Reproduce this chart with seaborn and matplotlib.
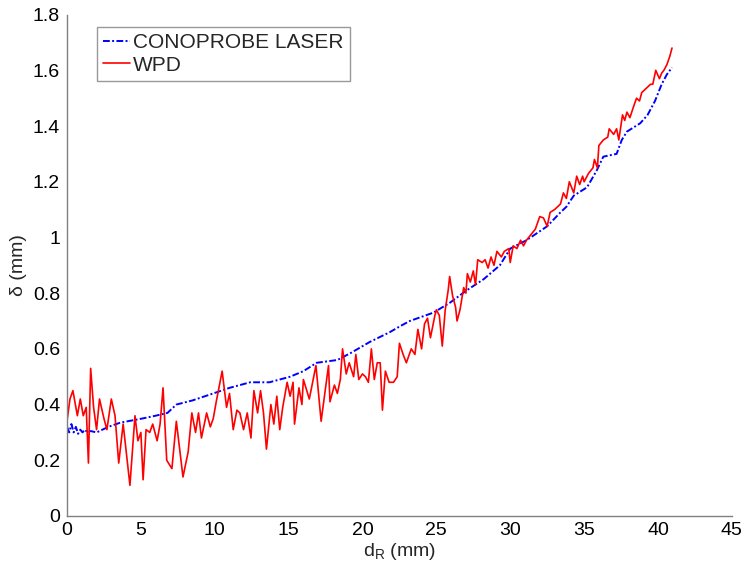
import matplotlib
matplotlib.use("Agg")
import matplotlib.pyplot as plt
import seaborn as sns
import pandas as pd

sns.set_style("white")
plt.rcParams['font.family'] = ['Liberation Sans', 'DejaVu Sans']
plt.rcParams['mathtext.fontset'] = 'custom'
plt.rcParams['mathtext.rm'] = 'Liberation Sans'

series_names = ["CONOPROBE LASER", "WPD"]

laser_x = [0.0, 0.15, 0.3, 0.45, 0.6, 0.75, 0.9, 1.05, 1.2, 1.4, 1.6, 2.0, 2.8, 3.6, 5.1, 6.0,
           6.8, 7.4, 8.5, 9.9, 11.0, 11.7, 12.4, 13.7, 15.1, 16.0, 16.9, 18.3, 19.2, 20.5,
           21.85, 22.5, 23.2, 24.8, 25.9, 27.05, 28.2, 29.3, 30.0, 31.1, 32.5, 33.4, 33.8,
           34.3, 35.2, 35.85, 36.3, 37.2, 37.55, 37.9, 38.8, 39.3, 39.8, 40.25, 40.6, 40.95]
laser_y = [0.32, 0.30, 0.33, 0.30, 0.32, 0.295, 0.31, 0.30, 0.31, 0.30, 0.305, 0.30, 0.32,
           0.335, 0.35, 0.36, 0.37, 0.40, 0.415, 0.44, 0.46, 0.47, 0.48, 0.48, 0.50, 0.52,
           0.55, 0.56, 0.585, 0.625, 0.66, 0.68, 0.70, 0.73, 0.765, 0.81, 0.85, 0.90, 0.96,
           0.99, 1.04, 1.09, 1.11, 1.15, 1.18, 1.24, 1.29, 1.30, 1.35, 1.38, 1.41, 1.44,
           1.49, 1.55, 1.585, 1.61]

wpd_x = [0.0, 0.2, 0.4, 0.7, 0.9, 1.1, 1.3, 1.45, 1.6, 1.8, 2.0, 2.2, 2.5, 2.7, 3.0, 3.25,
         3.5, 3.8, 4.26, 4.6, 4.8, 5.0, 5.15, 5.35, 5.6, 5.8, 6.1, 6.3, 6.5, 6.75, 7.1, 7.4,
         7.85, 8.2, 8.45, 8.7, 8.9, 9.1, 9.45, 9.7, 9.9, 10.1, 10.5, 10.8, 11.0, 11.25, 11.5,
         11.7, 11.95, 12.2, 12.45, 12.65, 12.9, 13.1, 13.3, 13.5, 13.8, 14.0, 14.2, 14.4,
         14.6, 14.9, 15.1, 15.3, 15.4, 15.7, 15.9, 16.0, 16.4, 16.85, 17.2, 17.6, 17.7, 17.8,
         18.1, 18.3, 18.5, 18.65, 18.9, 19.1, 19.4, 19.55, 19.75, 20.0, 20.2, 20.4, 20.6,
         20.8, 21.0, 21.2, 21.35, 21.55, 21.8, 22.1, 22.35, 22.5, 22.75, 22.97, 23.3, 23.55,
         23.75, 24.0, 24.2, 24.4, 24.6, 24.9, 25.0, 25.2, 25.4, 25.6, 25.8, 25.9, 26.1, 26.3,
         26.4, 26.6, 26.85, 27.0, 27.1, 27.3, 27.5, 27.65, 27.8, 28.1, 28.3, 28.5, 28.7,
         28.9, 29.1, 29.4, 29.6, 29.9, 30.0, 30.2, 30.45, 30.7, 30.9, 31.1, 31.4, 31.7, 32.0,
         32.25, 32.5, 32.7, 33.0, 33.4, 33.6, 33.8, 34.0, 34.3, 34.5, 34.7, 34.9, 35.0, 35.3,
         35.6, 35.7, 35.9, 36.0, 36.3, 36.6, 36.7, 37.0, 37.2, 37.35, 37.6, 37.75, 37.9,
         38.1, 38.35, 38.55, 38.75, 38.9, 39.1, 39.3, 39.5, 39.65, 39.85, 40.1, 40.25, 40.4,
         40.6, 40.8, 40.95]
wpd_y = [0.34, 0.42, 0.45, 0.36, 0.42, 0.36, 0.39, 0.19, 0.53, 0.39, 0.31, 0.42, 0.35, 0.31,
         0.42, 0.36, 0.19, 0.33, 0.11, 0.36, 0.27, 0.30, 0.13, 0.31, 0.30, 0.33, 0.27, 0.33,
         0.46, 0.20, 0.17, 0.34, 0.14, 0.23, 0.37, 0.30, 0.37, 0.28, 0.37, 0.32, 0.35, 0.41,
         0.52, 0.39, 0.44, 0.31, 0.38, 0.37, 0.31, 0.37, 0.28, 0.45, 0.37, 0.45, 0.37, 0.24,
         0.40, 0.33, 0.43, 0.31, 0.39, 0.48, 0.43, 0.48, 0.33, 0.46, 0.40, 0.49, 0.42, 0.54,
         0.34, 0.50, 0.54, 0.41, 0.47, 0.44, 0.49, 0.60, 0.51, 0.55, 0.50, 0.58, 0.49, 0.51,
         0.50, 0.48, 0.60, 0.49, 0.55, 0.55, 0.38, 0.52, 0.48, 0.48, 0.50, 0.62, 0.58, 0.55,
         0.60, 0.58, 0.67, 0.60, 0.69, 0.71, 0.64, 0.72, 0.74, 0.72, 0.61, 0.74, 0.81, 0.86,
         0.79, 0.75, 0.70, 0.74, 0.82, 0.80, 0.87, 0.84, 0.88, 0.83, 0.92, 0.91, 0.92, 0.89,
         0.93, 0.90, 0.95, 0.93, 0.95, 0.96, 0.91, 0.97, 0.96, 0.99, 0.97, 0.99, 1.01, 1.03,
         1.075, 1.07, 1.04, 1.09, 1.10, 1.12, 1.16, 1.14, 1.20, 1.16, 1.22, 1.19, 1.22, 1.20,
         1.23, 1.25, 1.28, 1.25, 1.33, 1.35, 1.36, 1.39, 1.37, 1.39, 1.35, 1.44, 1.42, 1.45,
         1.43, 1.47, 1.50, 1.49, 1.52, 1.53, 1.54, 1.55, 1.55, 1.60, 1.57, 1.59, 1.60, 1.62,
         1.65, 1.68]

x_ticks = [0, 5, 10, 15, 20, 25, 30, 35, 40, 45]
y_ticks = [0, 0.2, 0.4, 0.6, 0.8, 1.0, 1.2, 1.4, 1.6, 1.8]
y_tick_labels = ["0", "0.2", "0.4", "0.6", "0.8", "1", "1.2", "1.4", "1.6", "1.8"]

df_laser = pd.DataFrame({"x": laser_x, "y": laser_y})
df_wpd = pd.DataFrame({"x": wpd_x, "y": wpd_y})

fig = plt.figure(figsize=(7.47, 5.73), dpi=100)
ax = fig.add_axes([0.0897, 0.0995, 0.890, 0.875])

sns.lineplot(data=df_laser, x="x", y="y", ax=ax, color="#0000ff", linewidth=1.4,
             linestyle=(0, (3.5, 1.2, 1, 1.2)), estimator=None, sort=False,
             label=series_names[0])
sns.lineplot(data=df_wpd, x="x", y="y", ax=ax, color="#ff0000", linewidth=1.2,
             estimator=None, sort=False, label=series_names[1])

ax.set_xlim(0, 45)
ax.set_ylim(0, 1.8)
ax.set_xticks(x_ticks)
ax.set_xticklabels([str(t) for t in x_ticks])
ax.set_yticks(y_ticks)
ax.set_yticklabels(y_tick_labels)

for s in ["top", "right"]:
    ax.spines[s].set_visible(False)
for s in ["left", "bottom"]:
    ax.spines[s].set_color("#808080")
    ax.spines[s].set_linewidth(1.0)

ax.tick_params(axis="x", direction="in", length=5, color="#808080", labelsize=14,
               labelcolor="black", pad=4)
ax.tick_params(axis="y", direction="out", length=3, color="#808080", labelsize=14,
               labelcolor="black", pad=2)

ax.set_xlabel(r"d$_\mathregular{R}$ (mm)", fontsize=14, labelpad=2)
ax.set_ylabel("δ (mm)", fontsize=14, labelpad=4)

leg = ax.legend(loc="upper left", bbox_to_anchor=(0.045, 0.975), fontsize=15,
                frameon=True, fancybox=False, handlelength=1.3, handletextpad=0.15,
                borderpad=0.3, labelspacing=0.15, borderaxespad=0)
leg.get_frame().set_edgecolor("#808080")
leg.get_frame().set_linewidth(1.0)

fig.savefig("out.png", dpi=100)
